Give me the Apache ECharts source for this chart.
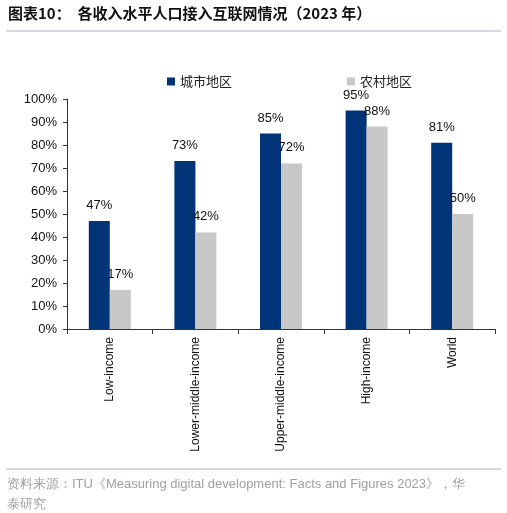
<!DOCTYPE html>
<html>
<head>
<meta charset="utf-8">
<script src="https://cdn.jsdelivr.net/npm/echarts@6/dist/echarts.min.js"></script>
<style>
  body { margin: 0; background: #fff; }
  #chart { width: 507px; height: 513px; }
</style>
</head>
<body>
<div id="chart"></div>
<script>
// chart data
var categories = ['Low-income', 'Lower-middle-income', 'Upper-middle-income', 'High-income', 'World'];
var urban = [47, 73, 85, 95, 81];
var rural = [17, 42, 72, 88, 50];
var yTicks = [0, 10, 20, 30, 40, 50, 60, 70, 80, 90, 100];

var chart = echarts.init(document.getElementById('chart'));
var cjk = '"Noto Sans CJK SC", sans-serif';
var latin = 'Arial, "Liberation Sans", sans-serif';

chart.setOption({
  animation: false,
  graphic: [
    { type: 'text', left: 8, top: 6, style: { text: '图表10：  各收入水平人口接入互联网情况（2023 年）', font: 'bold 15px ' + cjk, fill: '#111' } },
    { type: 'line', shape: { x1: 6, y1: 31, x2: 501, y2: 31 }, style: { stroke: '#a8b4c8', lineWidth: 1 } },
    { type: 'line', shape: { x1: 6, y1: 469, x2: 501, y2: 469 }, style: { stroke: '#a8b4c8', lineWidth: 1 } },
    { type: 'text', left: 7, top: 474, style: { text: '资料来源：ITU《Measuring digital development: Facts and Figures 2023》，华\n泰研究', font: '13px ' + latin, fill: '#a0a0a0', lineHeight: 20 } }
  ],
  legend: {
    top: 70, left: 162, itemGap: 115,
    itemWidth: 8, itemHeight: 8, icon: 'rect',
    textStyle: { fontFamily: cjk, fontSize: 13, color: '#222' },
    data: ['城市地区', '农村地区']
  },
  grid: { left: 67, right: 12, top: 99, bottom: 184 },
  xAxis: {
    type: 'category', data: categories,
    axisLine: { lineStyle: { color: '#333' } },
    axisTick: { show: true, length: 5, lineStyle: { color: '#333' } },
    axisLabel: { rotate: 90, color: '#111', fontFamily: latin, fontSize: 12, margin: 8 }
  },
  yAxis: {
    type: 'value', min: 0, max: 100, interval: 10,
    splitLine: { show: false },
    axisLine: { show: true, lineStyle: { color: '#333' } },
    axisTick: { show: true, inside: false, length: 4, lineStyle: { color: '#333' } },
    axisLabel: {
      color: '#111', fontFamily: latin, fontSize: 13, margin: 10,
      formatter: function (v) { return yTicks.indexOf(v) >= 0 ? v + '%' : ''; }
    }
  },
  series: [
    {
      name: '城市地区', type: 'bar', data: urban, barWidth: 21, barGap: '0%',
      itemStyle: { color: '#003478' },
      label: { show: true, position: 'top', distance: 9, formatter: '{c}%', color: '#111', fontFamily: latin, fontSize: 13 }
    },
    {
      name: '农村地区', type: 'bar', data: rural, barWidth: 21,
      itemStyle: { color: '#c8c8c8' },
      label: { show: true, position: 'top', distance: 9, formatter: '{c}%', color: '#111', fontFamily: latin, fontSize: 13 }
    }
  ]
});
</script>
</body>
</html>
